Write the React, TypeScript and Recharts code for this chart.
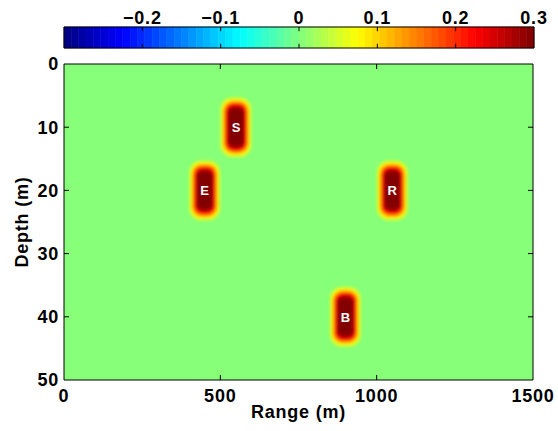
import React from 'react';
import {
  ComposedChart,
  XAxis,
  YAxis,
  Scatter,
  ReferenceArea,
  ReferenceLine,
} from 'recharts';

// ---- data ----
const RANGE_TICKS = [0, 500, 1000, 1500];
const DEPTH_TICKS = [0, 10, 20, 30, 40, 50];
const CBAR_TICKS = [-0.2, -0.1, 0, 0.1, 0.2, 0.3];
const SOURCE_LABELS = ['S', 'E', 'R', 'B'];
const SOURCE_RANGE = [550, 450, 1050, 900];
const SOURCE_DEPTH = [10, 20, 20, 40];
const CBAR_MIN = -0.3;
const CBAR_MAX = 0.3;
const CMAP_LEVELS = 64;
const BACKGROUND_VALUE = 0;

const FONT = '"Liberation Sans", Arial, Helvetica, sans-serif';

const clamp = (v: number) => Math.max(0, Math.min(1, v));
const jet = (t: number) => {
  const r = clamp(1.5 - Math.abs(4 * t - 3));
  const g = clamp(1.5 - Math.abs(4 * t - 2));
  const b = clamp(1.5 - Math.abs(4 * t - 1));
  const h = (v: number) => Math.round(v * 255).toString(16).padStart(2, '0');
  return `#${h(r)}${h(g)}${h(b)}`;
};

const bins = Array.from({ length: CMAP_LEVELS }, (_, i) => {
  const step = (CBAR_MAX - CBAR_MIN) / CMAP_LEVELS;
  return {
    x1: CBAR_MIN + i * step,
    x2: CBAR_MIN + (i + 1) * step,
    mid: CBAR_MIN + (i + 0.5) * step,
    y: 0.5,
    color: jet((i + 0.5) / CMAP_LEVELS),
  };
});

const bgColor = jet(
  (Math.floor(((BACKGROUND_VALUE - CBAR_MIN) / (CBAR_MAX - CBAR_MIN)) * CMAP_LEVELS) + 0.5) /
    CMAP_LEVELS
);

const sources = SOURCE_LABELS.map((label, i) => ({
  label,
  range: SOURCE_RANGE[i],
  depth: SOURCE_DEPTH[i],
}));

const fmtCbar = (v: number) => (v < 0 ? '\u2212' + Math.abs(v) : String(v));

const tickStyle = {
  fill: '#000',
  fontSize: 18,
  fontWeight: 700,
  fontFamily: FONT,
  letterSpacing: 0.8,
};

const BLOB_LAYERS = [
  { w: 31, h: 60, rx: 12, c: '#d0ff30' },
  { w: 28, h: 56, rx: 11, c: '#ffe800' },
  { w: 25, h: 52, rx: 10, c: '#ff9000' },
  { w: 21, h: 48, rx: 8, c: '#ff1a00' },
  { w: 18, h: 43, rx: 7, c: '#b40000' },
  { w: 14, h: 37, rx: 5, c: '#820000' },
];

const BlobShape = (props: any) => {
  const { cx, cy, payload } = props;
  if (cx == null || cy == null) return null;
  const id = `blur-${payload.label}`;
  return (
    <g>
      <defs>
        <filter id={id} x="-50%" y="-50%" width="200%" height="200%">
          <feGaussianBlur stdDeviation="1.4" />
        </filter>
      </defs>
      <g filter={`url(#${id})`}>
        {BLOB_LAYERS.map((l, i) => (
          <rect
            key={i}
            x={cx - l.w / 2}
            y={cy - l.h / 2}
            width={l.w}
            height={l.h}
            rx={l.rx}
            ry={l.rx}
            fill={l.c}
          />
        ))}
      </g>
      <text
        x={cx}
        y={cy + 5}
        textAnchor="middle"
        fill="#fff"
        fontSize={13}
        fontWeight={700}
        fontFamily={FONT}
      >
        {payload.label}
      </text>
    </g>
  );
};

const Colorbar = () => (
  <ComposedChart
    width={558}
    height={56}
    margin={{ top: 0, right: 24, bottom: 8, left: 64 }}
    data={bins}
  >
    <XAxis
      dataKey="mid"
      type="number"
      orientation="top"
      domain={[CBAR_MIN, CBAR_MAX]}
      ticks={CBAR_TICKS}
      tickFormatter={fmtCbar}
      height={27}
      axisLine={false}
      tickLine={false}
      tickSize={0}
      tickMargin={3}
      tick={tickStyle}
      allowDataOverflow
      interval={0}
    />
    <YAxis
      dataKey="y"
      type="number"
      domain={[0, 1]}
      width={0}
      tick={false}
      axisLine={false}
      tickLine={false}
      allowDataOverflow
    />
    {bins.map((b, i) => (
      <ReferenceArea
        key={i}
        x1={b.x1}
        x2={b.x2}
        y1={0}
        y2={1}
        fill={b.color}
        fillOpacity={1}
        stroke={b.color}
        strokeWidth={0.6}
        ifOverflow="visible"
      />
    ))}
    {CBAR_TICKS.slice(0, -1).map((t) => (
      <ReferenceLine
        key={'b' + t}
        segment={[{ x: t, y: 0 }, { x: t, y: 0.2 }]}
        stroke="#000"
        strokeWidth={1}
        ifOverflow="visible"
      />
    ))}
    {CBAR_TICKS.slice(0, -1).map((t) => (
      <ReferenceLine
        key={'t' + t}
        segment={[{ x: t, y: 1 }, { x: t, y: 0.8 }]}
        stroke="#000"
        strokeWidth={1}
        ifOverflow="visible"
      />
    ))}
    <ReferenceArea
      x1={CBAR_MIN}
      x2={CBAR_MAX}
      y1={0}
      y2={1}
      fill="none"
      stroke="#000"
      strokeWidth={1}
      ifOverflow="visible"
    />
  </ComposedChart>
);

const YLabel = (props: any) => {
  const vb = props.viewBox || {};
  const x = vb.x - 2;
  const y = vb.y + vb.height / 2;
  return (
    <text
      x={x}
      y={y}
      transform={`rotate(-90, ${x}, ${y})`}
      textAnchor="middle"
      dominantBaseline="central"
      fill="#000"
      fontSize={18}
      fontWeight={700}
      fontFamily={FONT}
      letterSpacing={0.8}
    >
      Depth (m)
    </text>
  );
};

const XLabel = (props: any) => {
  const vb = props.viewBox || {};
  const x = vb.x + vb.width / 2;
  const y = vb.y + 38;
  return (
    <text
      x={x}
      y={y}
      textAnchor="middle"
      fill="#000"
      fontSize={18}
      fontWeight={700}
      fontFamily={FONT}
      letterSpacing={0.8}
    >
      Range (m)
    </text>
  );
};

const MainChart = () => (
  <ComposedChart
    width={558}
    height={431}
    margin={{ top: 64, right: 25, bottom: 21, left: 24 }}
    data={sources}
  >
    <XAxis
      dataKey="range"
      type="number"
      domain={[0, 1500]}
      ticks={RANGE_TICKS}
      height={30}
      axisLine={false}
      tickLine={false}
      tickSize={0}
      tickMargin={9}
      tick={tickStyle}
      allowDataOverflow
      interval={0}
      label={{ content: XLabel }}
    />
    <YAxis
      dataKey="depth"
      type="number"
      domain={[0, 50]}
      reversed
      ticks={DEPTH_TICKS}
      width={40}
      axisLine={false}
      tickLine={false}
      tickSize={0}
      tickMargin={5}
      tick={tickStyle}
      allowDataOverflow
      interval={0}
      label={{ content: YLabel }}
    />
    <ReferenceArea
      x1={0}
      x2={1500}
      y1={0}
      y2={50}
      fill={bgColor}
      fillOpacity={1}
      stroke="none"
      ifOverflow="visible"
    />
    <Scatter data={sources} dataKey="depth" shape={BlobShape} isAnimationActive={false} />
    {RANGE_TICKS.slice(1, -1).map((t) => (
      <ReferenceLine
        key={'xb' + t}
        segment={[{ x: t, y: 50 }, { x: t, y: 49.2 }]}
        stroke="#000"
        ifOverflow="visible"
      />
    ))}
    {RANGE_TICKS.slice(1, -1).map((t) => (
      <ReferenceLine
        key={'xt' + t}
        segment={[{ x: t, y: 0 }, { x: t, y: 0.8 }]}
        stroke="#000"
        ifOverflow="visible"
      />
    ))}
    {DEPTH_TICKS.slice(1, -1).map((t) => (
      <ReferenceLine
        key={'yl' + t}
        segment={[{ x: 0, y: t }, { x: 16, y: t }]}
        stroke="#000"
        ifOverflow="visible"
      />
    ))}
    {DEPTH_TICKS.slice(1, -1).map((t) => (
      <ReferenceLine
        key={'yr' + t}
        segment={[{ x: 1500, y: t }, { x: 1484, y: t }]}
        stroke="#000"
        ifOverflow="visible"
      />
    ))}
    <ReferenceArea
      x1={0}
      x2={1500}
      y1={0}
      y2={50}
      fill="none"
      stroke="#000"
      strokeWidth={1}
      ifOverflow="visible"
    />
  </ComposedChart>
);

export default function App() {
  return (
    <div
      style={{
        position: 'absolute',
        left: 0,
        top: 0,
        width: 558,
        height: 431,
        background: '#fff',
        overflow: 'hidden',
      }}
    >
      <div style={{ position: 'absolute', left: 0, top: 0 }}>
        <MainChart />
      </div>
      <div style={{ position: 'absolute', left: 0, top: 0 }}>
        <Colorbar />
      </div>
    </div>
  );
}
